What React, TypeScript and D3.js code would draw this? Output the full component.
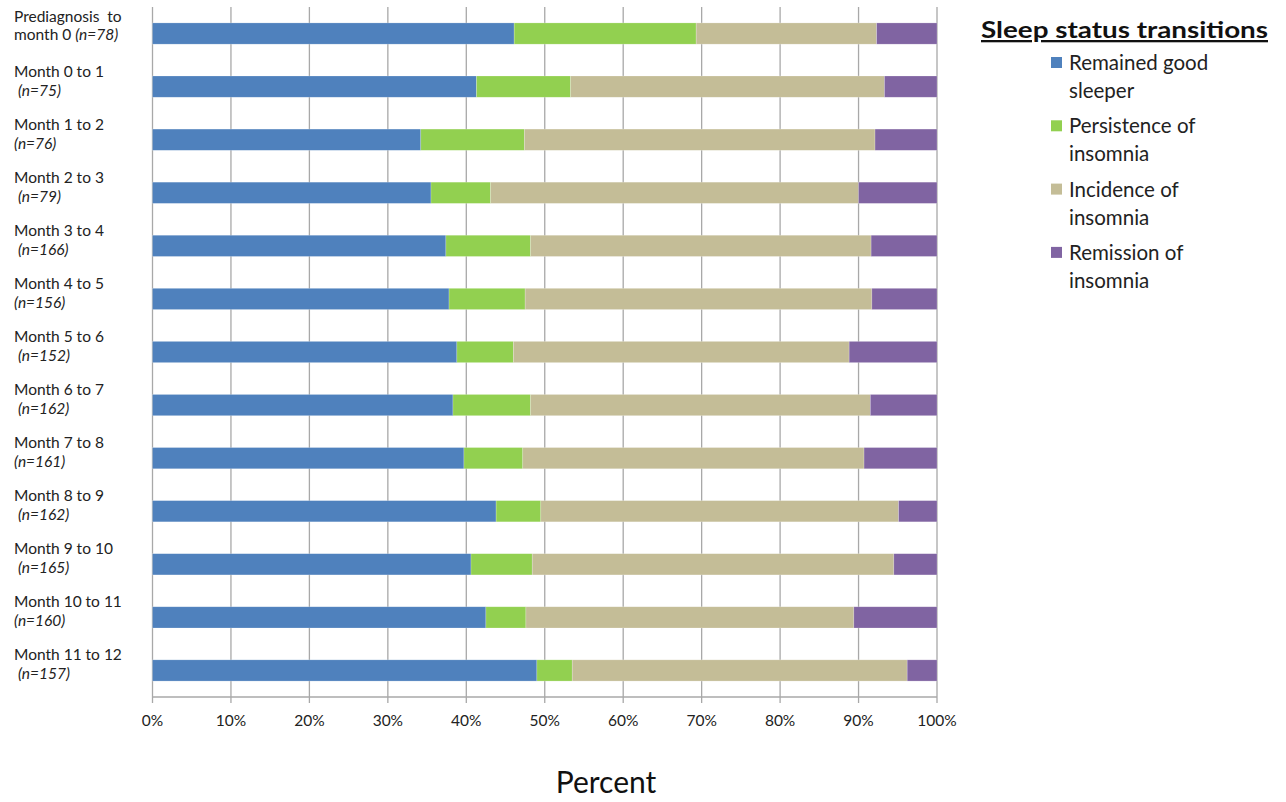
import React from "react";
import * as d3 from "d3";

const categoryLine1 = [
  "Prediagnosis  to",
  "Month 0 to 1",
  "Month 1 to 2",
  "Month 2 to 3",
  "Month 3 to 4",
  "Month 4 to 5",
  "Month 5 to 6",
  "Month 6 to 7",
  "Month 7 to 8",
  "Month 8 to 9",
  "Month 9 to 10",
  "Month 10 to 11",
  "Month 11 to 12",
];
const categoryLine2Prefix = ["month 0 ", " ", "", " ", " ", "", " ", " ", "", " ", " ", "", " "];
const sampleSizes = ["(n=78)", "(n=75)", "(n=76)", "(n=79)", "(n=166)", "(n=156)", "(n=152)", "(n=162)", "(n=161)", "(n=162)", "(n=165)", "(n=160)", "(n=157)"];

const remainedGood = [46.1, 41.3, 34.2, 35.5, 37.4, 37.8, 38.8, 38.3, 39.7, 43.8, 40.6, 42.5, 49.0];
const persistence = [23.2, 12.0, 13.2, 7.6, 10.8, 9.7, 7.2, 9.9, 7.5, 5.7, 7.8, 5.1, 4.5];
const incidence = [23.0, 40.0, 44.7, 46.9, 43.4, 44.2, 42.8, 43.3, 43.5, 45.6, 46.1, 41.8, 42.7];
const remission = [7.7, 6.7, 7.9, 10.0, 8.4, 8.3, 11.2, 8.5, 9.3, 4.9, 5.5, 10.6, 3.8];

const seriesNames = ["Remained good sleeper", "Persistence of insomnia", "Incidence of insomnia", "Remission of insomnia"];
const legendLines = [["Remained good", "sleeper"], ["Persistence of", "insomnia"], ["Incidence of", "insomnia"], ["Remission of", "insomnia"]];
const seriesColors = ["#4F81BD", "#92D050", "#C4BD97", "#8064A2"];
const xTicks = [0, 10, 20, 30, 40, 50, 60, 70, 80, 90, 100];

const FONT = "Lato, 'Open Sans', sans-serif";

export default function App() {
  const keys = ["a", "b", "c", "d"];
  const rows = categoryLine1.map((c, i) => ({
    id: String(i),
    a: remainedGood[i],
    b: persistence[i],
    c: incidence[i],
    d: remission[i],
  }));
  const stacked = d3.stack<any>().keys(keys)(rows);

  const x = d3.scaleLinear().domain([0, 100]).range([152.5, 937]);
  const y = d3
    .scaleBand<string>()
    .domain(rows.map((r) => r.id))
    .range([7, 697])
    .paddingInner(0.6)
    .paddingOuter(0.3);

  const gridColor = "#a8a8a8";

  return (
    <svg
      width={1286}
      height={802}
      style={{ position: "absolute", left: 0, top: 0, background: "#fff" }}
      fontFamily={FONT}
    >
      {xTicks.map((t) => (
        <line key={"g" + t} x1={x(t)} x2={x(t)} y1={7} y2={697} stroke={gridColor} strokeWidth={1.3} />
      ))}
      {stacked.map((layer, si) => (
        <g key={"s" + si} fill={seriesColors[si]}>
          {layer.map((d, i) => (
            <rect
              key={i}
              x={x(d[0])}
              width={x(d[1]) - x(d[0])}
              y={y(rows[i].id)}
              height={y.bandwidth()}
              stroke="#ffffff"
              strokeOpacity={0.35}
              strokeWidth={0.6}
            />
          ))}
        </g>
      ))}
      <line x1={x(0)} x2={x(100)} y1={697} y2={697} stroke={gridColor} strokeWidth={1.3} />
      {xTicks.map((t) => (
        <g key={"t" + t}>
          <line x1={x(t)} x2={x(t)} y1={697} y2={703} stroke={gridColor} strokeWidth={1.3} />
          <text x={x(t)} y={726} textAnchor="middle" fontSize={15.5} fill="#222">
            {t + "%"}
          </text>
        </g>
      ))}
      <text x={606} y={793} textAnchor="middle" fontSize={30} fill="#111">
        Percent
      </text>
      {categoryLine1.map((c, i) => {
        const cy = (y(rows[i].id) as number) + y.bandwidth() / 2;
        const o1 = i === 0 ? -12 : -10;
        const o2 = i === 0 ? 6.5 : 9;
        return (
          <g key={"c" + i} fontSize={15.5} fill="#222">
            <text x={14} y={cy + o1} style={{ whiteSpace: "pre" }}>
              {c}
            </text>
            <text x={14} y={cy + o2} style={{ whiteSpace: "pre" }}>
              <tspan>{categoryLine2Prefix[i]}</tspan>
              <tspan fontStyle="italic">{sampleSizes[i]}</tspan>
            </text>
          </g>
        );
      })}
      <text
        x={981}
        y={38}
        fontSize={23}
        fontWeight="bold"
        fill="#111"
        textDecoration="underline"
        textLength={287}
        lengthAdjust="spacingAndGlyphs"
      >
        Sleep status transitions
      </text>
      {seriesNames.map((s, i) => {
        const top = 57 + i * 63.3;
        return (
          <g key={"l" + i}>
            <rect x={1051} y={top} width={11} height={11} fill={seriesColors[i]} />
            <text x={1069} y={top + 13} fontSize={20.5} fill="#222">
              {legendLines[i][0]}
            </text>
            <text x={1069} y={top + 41} fontSize={20.5} fill="#222">
              {legendLines[i][1]}
            </text>
          </g>
        );
      })}
    </svg>
  );
}
